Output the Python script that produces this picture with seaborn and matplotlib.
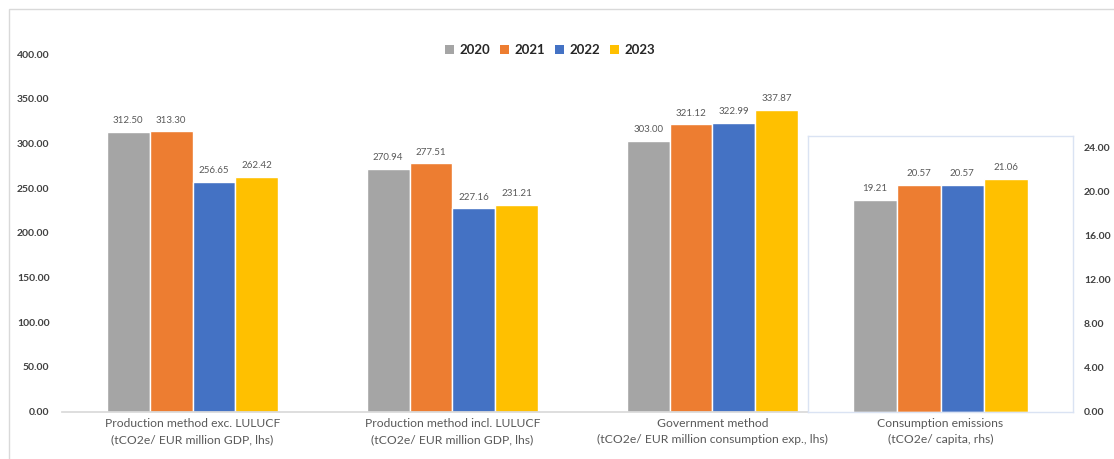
import matplotlib
matplotlib.use("Agg")
import matplotlib.pyplot as plt
import seaborn as sns
import pandas as pd
from matplotlib.patches import Rectangle, Patch

# ---------------- data ----------------
years = ["2020", "2021", "2022", "2023"]
categories_lhs = [
    "Production method exc. LULUCF\n(tCO2e/ EUR million GDP, lhs)",
    "Production method incl. LULUCF\n(tCO2e/ EUR million GDP, lhs)",
    "Government method\n(tCO2e/ EUR million consumption exp., lhs)",
]
values_2020 = [312.50, 270.94, 303.00]
values_2021 = [313.30, 277.51, 321.12]
values_2022 = [256.65, 227.16, 322.99]
values_2023 = [262.42, 231.21, 337.87]

category_rhs = "Consumption emissions\n(tCO2e/ capita, rhs)"
consumption_values = [19.21, 20.57, 20.57, 21.06]

colors = ["#A5A5A5", "#ED7D31", "#4472C4", "#FFC000"]

df_lhs = pd.DataFrame({
    "category": categories_lhs * 4,
    "year": sum([[y] * 3 for y in years], []),
    "value": values_2020 + values_2021 + values_2022 + values_2023,
})
df_rhs = pd.DataFrame({
    "category": [category_rhs] * 4,
    "year": years,
    "value": consumption_values,
})

# ---------------- figure ----------------
sns.set_theme(style="white")
plt.rcParams["font.family"] = ["Lato", "DejaVu Sans"]
W, H = 1114, 459
fig = plt.figure(figsize=(W / 100, H / 100), dpi=100)

def px(l, t, r, b):
    return [l / W, 1 - b / H, (r - l) / W, (b - t) / H]

text_col = "#595959"

# primary axes
ax = fig.add_axes(px(62, 54, 1073, 411.5))
sns.barplot(data=df_lhs, x="category", y="value", hue="year", palette=colors,
            width=0.66, edgecolor="white", linewidth=1, ax=ax, legend=False,
            errorbar=None, saturation=1)
ax.set_xlim(-0.502, 3.387)
ax.set_ylim(0, 400)
ax.set_yticks(range(0, 401, 50))
ax.set_yticklabels([f"{v:.2f}" for v in range(0, 401, 50)])
ax.tick_params(axis="y", length=0, pad=9, labelsize=7.5, labelcolor="#404040")
ax.tick_params(axis="x", length=0, pad=5, labelsize=8.7, labelcolor=text_col)
for lab in ax.get_yticklabels():
    lab.set_fontweight("bold")
for lab in ax.get_xticklabels():
    lab.set_linespacing(1.55)
for s in ["top", "right", "left"]:
    ax.spines[s].set_visible(False)
ax.spines["bottom"].set_color("#D9D9D9")
ax.set_xlabel("")
ax.set_ylabel("")
ax.patch.set_alpha(0)
for c in ax.containers:
    ax.bar_label(c, fmt="%.2f", padding=5, fontsize=7, color=text_col)

# secondary (rhs) inset axes
ax2 = fig.add_axes(px(808, 136, 1073, 411.5))
sns.barplot(data=df_rhs, x="category", y="value", hue="year", palette=colors,
            width=0.657, edgecolor="white", linewidth=1, ax=ax2, legend=False,
            errorbar=None, saturation=1)
ax2.set_xlim(-0.5, 0.5)
ax2.set_ylim(0, 25)
ax2.yaxis.tick_right()
ax2.set_yticks(range(0, 25, 4))
ax2.set_yticklabels([f"{v:.2f}" for v in range(0, 25, 4)])
ax2.tick_params(axis="y", length=0, pad=8, labelsize=7.5, labelcolor="#404040")
ax2.tick_params(axis="x", length=0, pad=5, labelsize=8.7, labelcolor=text_col)
for lab in ax2.get_yticklabels():
    lab.set_fontweight("bold")
for lab in ax2.get_xticklabels():
    lab.set_linespacing(1.55)
for s in ax2.spines.values():
    s.set_visible(True)
    s.set_color("#DAE3F3")
    s.set_linewidth(1)
ax2.set_xlabel("")
ax2.set_ylabel("")
ax2.set_facecolor("white")
for c in ax2.containers:
    ax2.bar_label(c, fmt="%.2f", padding=5, fontsize=7, color=text_col)

# legend
handles = [Patch(facecolor=c, edgecolor="none") for c in colors]
fig.legend(handles, years, loc="center", bbox_to_anchor=(550 / W, 1 - 50 / H),
           ncol=4, frameon=False, handlelength=0.7, handleheight=0.7,
           handletextpad=0.4, columnspacing=0.75,
           prop={"weight": "bold", "size": 9.5})

# outer chart border
fig.patches.append(Rectangle((9 / W, -0.1), 1.2, 1 - 9 / H + 0.1,
                             transform=fig.transFigure, fill=False,
                             edgecolor="#D9D9D9", linewidth=1))

fig.savefig("out.png", dpi=100)
